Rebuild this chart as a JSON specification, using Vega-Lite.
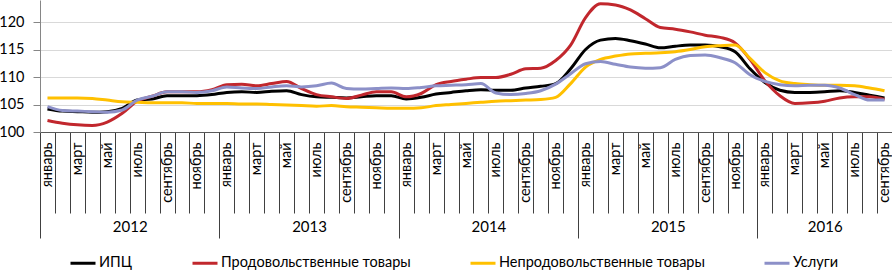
{
  "$schema": "https://vega.github.io/schema/vega-lite/v6.json",
  "width": 852,
  "height": 132,
  "autosize": {"type": "none"},
  "padding": {"left": 40, "top": 0, "right": 0, "bottom": 138},
  "background": "white",
  "config": {
    "view": {"stroke": null},
    "font": "Lato",
    "axis": {"labelFont": "Lato", "labelColor": "#000000"},
    "legend": {"labelFont": "Lato"}
  },
  "data": {
    "values": [
      {"month": 0, "ИПЦ": 104.2, "Продовольственные товары": 102.1, "Непродовольственные товары": 106.2, "Услуги": 104.6},
      {"month": 1, "ИПЦ": 103.8, "Продовольственные товары": 101.6, "Непродовольственные товары": 106.2, "Услуги": 103.9},
      {"month": 2, "ИПЦ": 103.7, "Продовольственные товары": 101.3, "Непродовольственные товары": 106.2, "Услуги": 103.8},
      {"month": 3, "ИПЦ": 103.6, "Продовольственные товары": 101.2, "Непродовольственные товары": 106.1, "Услуги": 103.7},
      {"month": 4, "ИПЦ": 103.7, "Продовольственные товары": 101.8, "Непродовольственные товары": 105.8, "Услуги": 103.6},
      {"month": 5, "ИПЦ": 104.3, "Продовольственные товары": 103.4, "Непродовольственные товары": 105.5, "Услуги": 104.0},
      {"month": 6, "ИПЦ": 105.8, "Продовольственные товары": 105.6, "Непродовольственные товары": 105.4, "Услуги": 105.8},
      {"month": 7, "ИПЦ": 106.0, "Продовольственные товары": 106.5, "Непродовольственные товары": 105.3, "Услуги": 106.5},
      {"month": 8, "ИПЦ": 106.6, "Продовольственные товары": 107.3, "Непродовольственные товары": 105.3, "Услуги": 107.3},
      {"month": 9, "ИПЦ": 106.6, "Продовольственные товары": 107.3, "Непродовольственные товары": 105.3, "Услуги": 107.3},
      {"month": 10, "ИПЦ": 106.6, "Продовольственные товары": 107.3, "Непродовольственные товары": 105.2, "Услуги": 107.2},
      {"month": 11, "ИПЦ": 106.8, "Продовольственные товары": 107.7, "Непродовольственные товары": 105.2, "Услуги": 107.5},
      {"month": 12, "ИПЦ": 107.2, "Продовольственные товары": 108.6, "Непродовольственные товары": 105.2, "Услуги": 108.2},
      {"month": 13, "ИПЦ": 107.3, "Продовольственные товары": 108.7, "Непродовольственные товары": 105.1, "Услуги": 108.0},
      {"month": 14, "ИПЦ": 107.2, "Продовольственные товары": 108.4, "Непродовольственные товары": 105.1, "Услуги": 107.9},
      {"month": 15, "ИПЦ": 107.4, "Продовольственные товары": 108.8, "Непродовольственные товары": 105.0, "Услуги": 108.2},
      {"month": 16, "ИПЦ": 107.5, "Продовольственные товары": 109.2, "Непродовольственные товары": 104.9, "Услуги": 108.4},
      {"month": 17, "ИПЦ": 106.8, "Продовольственные товары": 107.9, "Непродовольственные товары": 104.8, "Услуги": 108.2},
      {"month": 18, "ИПЦ": 106.4, "Продовольственные товары": 106.8, "Непродовольственные товары": 104.7, "Услуги": 108.4},
      {"month": 19, "ИПЦ": 106.3, "Продовольственные товары": 106.4, "Непродовольственные товары": 104.8, "Услуги": 108.9},
      {"month": 20, "ИПЦ": 106.2, "Продовольственные товары": 106.1, "Непродовольственные товары": 104.6, "Услуги": 107.9},
      {"month": 21, "ИПЦ": 106.4, "Продовольственные товары": 106.7, "Непродовольственные товары": 104.5, "Услуги": 107.8},
      {"month": 22, "ИПЦ": 106.6, "Продовольственные товары": 107.3, "Непродовольственные товары": 104.4, "Услуги": 107.9},
      {"month": 23, "ИПЦ": 106.6, "Продовольственные товары": 107.3, "Непродовольственные товары": 104.3, "Услуги": 108.0},
      {"month": 24, "ИПЦ": 106.0, "Продовольственные товары": 106.4, "Непродовольственные товары": 104.3, "Услуги": 107.9},
      {"month": 25, "ИПЦ": 106.3, "Продовольственные товары": 107.0, "Непродовольственные товары": 104.4, "Услуги": 108.1},
      {"month": 26, "ИПЦ": 106.9, "Продовольственные товары": 108.6, "Непродовольственные товары": 104.8, "Услуги": 108.4},
      {"month": 27, "ИПЦ": 107.2, "Продовольственные товары": 109.2, "Непродовольственные товары": 105.0, "Услуги": 108.5},
      {"month": 28, "ИПЦ": 107.5, "Продовольственные товары": 109.6, "Непродовольственные товары": 105.2, "Услуги": 108.6},
      {"month": 29, "ИПЦ": 107.7, "Продовольственные товары": 109.9, "Непродовольственные товары": 105.4, "Услуги": 108.8},
      {"month": 30, "ИПЦ": 107.6, "Продовольственные товары": 109.9, "Непродовольственные товары": 105.6, "Услуги": 107.1},
      {"month": 31, "ИПЦ": 107.6, "Продовольственные товары": 110.5, "Непродовольственные товары": 105.7, "Услуги": 106.8},
      {"month": 32, "ИПЦ": 108.0, "Продовольственные товары": 111.5, "Непродовольственные товары": 105.8, "Услуги": 107.0},
      {"month": 33, "ИПЦ": 108.3, "Продовольственные товары": 111.6, "Непродовольственные товары": 105.9, "Услуги": 107.5},
      {"month": 34, "ИПЦ": 108.8, "Продовольственные товары": 113.0, "Непродовольственные товары": 106.3, "Услуги": 108.7},
      {"month": 35, "ИПЦ": 111.5, "Продовольственные товары": 115.8, "Непродовольственные товары": 108.8, "Услуги": 110.6},
      {"month": 36, "ИПЦ": 115.0, "Продовольственные товары": 120.8, "Непродовольственные товары": 111.8, "Услуги": 112.4},
      {"month": 37, "ИПЦ": 116.7, "Продовольственные товары": 123.3, "Непродовольственные товары": 113.2, "Услуги": 112.8},
      {"month": 38, "ИПЦ": 117.0, "Продовольственные товары": 123.1, "Непродовольственные товары": 113.8, "Услуги": 112.3},
      {"month": 39, "ИПЦ": 116.6, "Продовольственные товары": 122.2, "Непродовольственные товары": 114.2, "Услуги": 111.8},
      {"month": 40, "ИПЦ": 116.0, "Продовольственные товары": 120.6, "Непродовольственные товары": 114.3, "Услуги": 111.6},
      {"month": 41, "ИПЦ": 115.3, "Продовольственные товары": 119.0, "Непродовольственные товары": 114.4, "Услуги": 111.7},
      {"month": 42, "ИПЦ": 115.6, "Продовольственные товары": 118.7, "Непродовольственные товары": 114.6, "Услуги": 113.2},
      {"month": 43, "ИПЦ": 115.8, "Продовольственные товары": 118.2, "Непродовольственные товары": 115.0, "Услуги": 113.9},
      {"month": 44, "ИПЦ": 115.8, "Продовольственные товары": 117.6, "Непродовольственные товары": 115.5, "Услуги": 114.0},
      {"month": 45, "ИПЦ": 115.5, "Продовольственные товары": 117.2, "Непродовольственные товары": 115.7, "Услуги": 113.5},
      {"month": 46, "ИПЦ": 114.6, "Продовольственные товары": 116.2, "Непродовольственные товары": 115.8, "Услуги": 112.6},
      {"month": 47, "ИПЦ": 111.5, "Продовольственные товары": 113.2, "Непродовольственные товары": 113.4, "Услуги": 110.4},
      {"month": 48, "ИПЦ": 109.0, "Продовольственные товары": 109.3, "Непродовольственные товары": 110.8, "Услуги": 109.2},
      {"month": 49, "ИПЦ": 107.6, "Продовольственные товары": 106.6, "Непродовольственные товары": 109.3, "Услуги": 108.6},
      {"month": 50, "ИПЦ": 107.2, "Продовольственные товары": 105.2, "Непродовольственные товары": 108.8, "Услуги": 108.4},
      {"month": 51, "ИПЦ": 107.2, "Продовольственные товары": 105.3, "Непродовольственные товары": 108.6, "Услуги": 108.5},
      {"month": 52, "ИПЦ": 107.3, "Продовольственные товары": 105.6, "Непродовольственные товары": 108.5, "Услуги": 108.5},
      {"month": 53, "ИПЦ": 107.5, "Продовольственные товары": 106.2, "Непродовольственные товары": 108.5, "Услуги": 108.0},
      {"month": 54, "ИПЦ": 107.2, "Продовольственные товары": 106.4, "Непродовольственные товары": 108.4, "Услуги": 106.8},
      {"month": 55, "ИПЦ": 106.7, "Продовольственные товары": 106.4, "Непродовольственные товары": 108.0, "Услуги": 105.8},
      {"month": 56, "ИПЦ": 106.2, "Продовольственные товары": 105.9, "Непродовольственные товары": 107.5, "Услуги": 105.8}
    ]
  },
  "transform": [
    {"fold": ["ИПЦ", "Продовольственные товары", "Непродовольственные товары", "Услуги"], "as": ["series", "value"]}
  ],
  "encoding": {
    "y": {
      "field": "value",
      "type": "quantitative",
      "scale": {"domain": [100, 124], "nice": false, "zero": false},
      "axis": {
        "title": null,
        "values": [100, 105, 110, 115, 120],
        "grid": true,
        "gridColor": "#d9d9d9",
        "gridWidth": 1,
        "domainColor": "#868686",
        "tickColor": "#868686",
        "tickSize": 7,
        "labelPadding": 9,
        "labelFontSize": 14.5,
        "labelColor": "#000000"
      }
    }
  },
  "resolve": {"axis": {"x": "independent"}},
  "layer": [
    {
      "mark": {"type": "line", "strokeWidth": 3, "interpolate": "monotone"},
      "encoding": {
        "x": {
          "field": "month",
          "type": "quantitative",
          "scale": {"domain": [-0.5, 56.5], "nice": false, "zero": false},
          "axis": {
            "orient": "bottom",
            "title": null,
            "grid": false,
            "labels": false,
            "values": [-0.5, 0.5, 1.5, 2.5, 3.5, 4.5, 5.5, 6.5, 7.5, 8.5, 9.5, 10.5, 11.5, 12.5, 13.5, 14.5, 15.5, 16.5, 17.5, 18.5, 19.5, 20.5, 21.5, 22.5, 23.5, 24.5, 25.5, 26.5, 27.5, 28.5, 29.5, 30.5, 31.5, 32.5, 33.5, 34.5, 35.5, 36.5, 37.5, 38.5, 39.5, 40.5, 41.5, 42.5, 43.5, 44.5, 45.5, 46.5, 47.5, 48.5, 49.5, 50.5, 51.5, 52.5, 53.5, 54.5, 55.5, 56.5],
            "tickSize": 81,
            "tickColor": "#404040",
            "domainColor": "#595959"
          }
        },
        "color": {
          "field": "series",
          "type": "nominal",
          "scale": {
            "domain": ["ИПЦ", "Продовольственные товары", "Непродовольственные товары", "Услуги"],
            "range": ["#000000", "#C1272D", "#FFC000", "#8C90C8"]
          },
          "legend": {
            "title": null,
            "orient": "none",
            "legendX": 29,
            "legendY": 249,
            "direction": "horizontal",
            "symbolType": "stroke",
            "symbolSize": 625,
            "symbolStrokeWidth": 3,
            "labelFontSize": 14.5,
            "labelLimit": 400,
            "labelColor": "#000000",
            "labelOffset": 2,
            "columnPadding": 53,
            "padding": 0
          }
        }
      }
    },
    {
      "mark": {"type": "point", "opacity": 0},
      "encoding": {
        "x": {
          "field": "month",
          "type": "quantitative",
          "axis": {
            "orient": "bottom",
            "title": null,
            "grid": false,
            "ticks": false,
            "domain": false,
            "values": [0, 2, 4, 6, 8, 10, 12, 14, 16, 18, 20, 22, 24, 26, 28, 30, 32, 34, 36, 38, 40, 42, 44, 46, 48, 50, 52, 54, 56],
            "labelExpr": "['январь','февраль','март','апрель','май','июнь','июль','август','сентябрь','октябрь','ноябрь','декабрь'][datum.value % 12]",
            "labelAngle": 270,
            "labelAlign": "right",
            "labelBaseline": "middle",
            "labelPadding": 10,
            "labelFontSize": 14.5,
            "labelColor": "#000000",
            "labelOverlap": false,
            "labelBound": false,
            "labelFlush": false
          }
        }
      }
    },
    {
      "mark": {"type": "point", "opacity": 0},
      "encoding": {
        "x": {
          "field": "month",
          "type": "quantitative",
          "axis": {
            "orient": "bottom",
            "title": null,
            "grid": false,
            "ticks": false,
            "domain": false,
            "values": [5.5, 17.5, 29.5, 41.5, 52],
            "labelExpr": "'' + (2012 + floor(datum.value / 12))",
            "labelAngle": 0,
            "labelAlign": "center",
            "labelBaseline": "top",
            "labelPadding": 87,
            "labelFontSize": 15,
            "labelColor": "#000000",
            "labelOverlap": false,
            "labelFlush": false
          }
        }
      }
    },
    {
      "mark": {"type": "point", "opacity": 0},
      "encoding": {
        "x": {
          "field": "month",
          "type": "quantitative",
          "axis": {
            "orient": "bottom",
            "title": null,
            "grid": false,
            "labels": false,
            "domain": false,
            "values": [-0.5, 11.5, 23.5, 35.5, 47.5, 56.5],
            "tickSize": 106,
            "tickColor": "#404040"
          }
        }
      }
    }
  ]
}
